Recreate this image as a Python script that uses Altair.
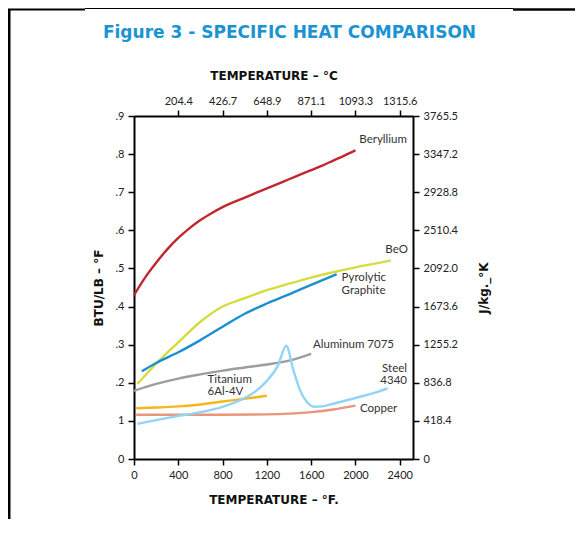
import altair as alt
import pandas as pd

# ---------------- data (temperature °F, specific heat BTU/lb·°F) ----------------
materials = ["Beryllium", "BeO", "Pyrolytic Graphite", "Aluminum 7075",
             "Titanium 6Al-4V", "Copper", "Steel 4340"]
colors = ["#c1272d", "#d5dc3f", "#1b8fd2", "#9d9d9d", "#f8b61c", "#e9967d", "#90d4f6"]

be_t = [0, 100, 200, 300, 400, 500, 600, 700, 800, 900, 1000, 1100, 1200, 1300, 1400, 1500,
        1600, 1700, 1800, 1900, 2000]
be_v = [.43, .476, .515, .55, .58, .605, .627, .645, .661, .674, .686, .698, .710, .722, .734, .746,
        .758, .77, .783, .796, .81]

beo_t = [30, 200, 400, 600, 800, 1000, 1200, 1400, 1600, 1800, 2000, 2200, 2320]
beo_v = [.197, .25, .306, .36, .40, .422, .443, .46, .476, .49, .503, .514, .521]

pg_t = [70, 200, 400, 600, 800, 1000, 1200, 1400, 1600, 1830]
pg_v = [.23, .252, .28, .312, .347, .381, .408, .432, .457, .485]

al_t = [0, 200, 400, 600, 800, 1000, 1200, 1400, 1600]
al_v = [.179, .197, .211, .222, .232, .240, .248, .258, .276]

ti_t = [20, 200, 400, 600, 800, 1000, 1200]
ti_v = [.133, .135, .138, .143, .151, .158, .166]

cu_t = [20, 400, 800, 1200, 1400, 1600, 1800, 2000]
cu_v = [.116, .116, .116, .117, .119, .123, .13, .14]

st_t = [30, 200, 400, 600, 800, 1000, 1100, 1200, 1300, 1375, 1440, 1500, 1560, 1630, 1700, 1800, 2000, 2200, 2290]
st_v = [.092, .102, .113, .123, .137, .16, .178, .205, .245, .297, .233, .18, .15, .137, .138, .145, .16, .176, .185]

series_t = [be_t, beo_t, pg_t, al_t, ti_t, cu_t, st_t]
series_v = [be_v, beo_v, pg_v, al_v, ti_v, cu_v, st_v]

# tick values and labels
f_ticks = [0, 400, 800, 1200, 1600, 2000, 2400]
c_ticks = [400, 800, 1200, 1600, 2000, 2400]
c_labels = ["204.4", "426.7", "648.9", "871.1", "1093.3", "1315.6"]
y_ticks = [0, .1, .2, .3, .4, .5, .6, .7, .8, .9]
btu_labels = ["0", "1", ".2", ".3", ".4", ".5", ".6", ".7", ".8", ".9"]
si_labels = ["0", "418.4", "836.8", "1255.2", "1673.6", "2092.0", "2510.4", "2928.8", "3347.2", "3765.5"]

# curve annotations
ann_text = ["Beryllium", "BeO", "Pyrolytic", "Graphite", "Aluminum 7075",
            "Titanium", "6Al-4V", "Steel", "4340", "Copper"]
ann_t = [2250, 2372, 1875, 1875, 1617, 664, 664, 2466, 2466, 2041]
ann_v = [.838, .549, .474, .442, .298, .208, .176, .236, .205, .132]
ann_align = ["center", "center", "left", "left", "left", "left", "left", "right", "right", "left"]

# ---------------- build tables ----------------
rows = []
for m, ts, vs in zip(materials, series_t, series_v):
    for i, (t, v) in enumerate(zip(ts, vs)):
        rows.append({"material": m, "T": t, "v": v, "i": i})
df = pd.DataFrame(rows)
ann = pd.DataFrame({"text": ann_text, "T": ann_t, "v": ann_v, "align": ann_align})


def arr_expr(labels):
    return "[" + ",".join("'" + s + "'" for s in labels) + "]"


FONT = "Lato"
BOLD = "DejaVu Sans"
x_scale = alt.Scale(domain=[0, 2520], nice=False, zero=False)
y_scale = alt.Scale(domain=[0, 0.9], nice=False, zero=False)

W, H = 279, 343

bottom_axis = alt.Axis(orient="bottom", values=f_ticks, format="d", title="TEMPERATURE – °F.",
                       titleX=W / 2, titleY=40, titleBaseline="middle", labelFlush=False)
left_axis = alt.Axis(orient="left", values=y_ticks,
                     labelExpr=arr_expr(btu_labels) + "[round(datum.value*10)]",
                     title="BTU/LB – °F", titleX=-35.5, titleY=H / 2, titleAngle=270,
                     titleBaseline="middle", labelFlush=False)
top_axis = alt.Axis(orient="top", values=c_ticks,
                    labelExpr=arr_expr(c_labels) + "[round(datum.value/400)-1]",
                    title="TEMPERATURE – °C", titleX=W / 2, titleY=-40.5,
                    titleBaseline="middle", labelFlush=False)
right_axis = alt.Axis(orient="right", values=y_ticks,
                      labelExpr=arr_expr(si_labels) + "[round(datum.value*10)]",
                      title="J/kg._°K", titleX=70, titleY=H / 2, titleAngle=270,
                      titleBaseline="middle", labelFlush=False)

lines = alt.Chart(df).mark_line(strokeWidth=2.4, interpolate="monotone").encode(
    x=alt.X("T:Q", scale=x_scale, axis=bottom_axis),
    y=alt.Y("v:Q", scale=y_scale, axis=left_axis),
    color=alt.Color("material:N", scale=alt.Scale(domain=materials, range=colors), legend=None),
    order="i:Q",
)


def text_layer(align, axes):
    return alt.Chart(ann).transform_filter(alt.datum.align == align).mark_text(
        font=FONT, fontSize=11.5, color="#333333", align=align, baseline="middle"
    ).encode(
        x=alt.X("T:Q", scale=x_scale, axis=top_axis if axes else None),
        y=alt.Y("v:Q", scale=y_scale, axis=right_axis if axes else None),
        text="text:N",
    )


one = pd.DataFrame({"k": [0]})
border_left = alt.Chart(one).mark_rule(color="black", strokeWidth=3).encode(
    x=alt.value(-125), y=alt.value(-107), y2=alt.value(420))
border_top1 = alt.Chart(one).mark_rule(color="black", strokeWidth=2).encode(
    x=alt.value(-127), x2=alt.value(-49), y=alt.value(-106.5))
border_top2 = alt.Chart(one).mark_rule(color="black", strokeWidth=1).encode(
    x=alt.value(-49), x2=alt.value(379), y=alt.value(-107.5))
border_top3 = alt.Chart(one).mark_rule(color="black", strokeWidth=2.5).encode(
    x=alt.value(379), x2=alt.value(445), y=alt.value(-106.5))

chart = alt.layer(
    border_left, border_top1, border_top2, border_top3,
    lines,
    text_layer("left", True), text_layer("center", False), text_layer("right", False),
).resolve_axis(x="independent", y="independent").properties(
    width=W, height=H,
    autosize=alt.AutoSizeParams(type="none"),
    padding={"left": 126, "top": 108, "right": 162, "bottom": 60},
    title=alt.TitleParams("Figure 3 - SPECIFIC HEAT COMPARISON", font=BOLD, fontSize=17,
                          fontWeight="bold", color="#1b93d3", anchor="middle", dx=16, dy=56,
                          offset=22),
).configure_view(stroke=None).configure_axis(
    domainColor="black", domainWidth=2, tickColor="black", tickWidth=1.5, tickSize=6,
    labelFont=FONT, labelFontSize=11, labelColor="#222222", labelPadding=4,
    titleFont=BOLD, titleFontSize=12, titleFontWeight="bold", titleColor="#111111",
    grid=False,
)

chart.save("out.html", embed_options={"renderer": "svg", "actions": False})
